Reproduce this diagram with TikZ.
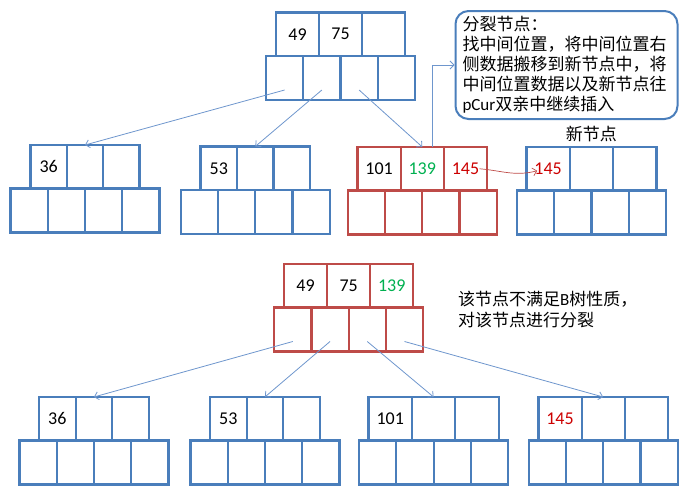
\documentclass[tikz,border=0pt]{standalone}
\usepackage{fontspec}
\setmainfont{Carlito}
\newfontfamily\cjk{Noto Sans CJK SC}
\usepackage{tikz}
\usetikzlibrary{
  	positioning,
  	arrows.meta,
  	calc
  }

\definecolor{treeblue}{RGB}{74,126,187}
\definecolor{treered}{RGB}{190,75,72}
\definecolor{linkblue}{RGB}{110,150,205}
\definecolor{keygreen}{RGB}{0,176,80}
\definecolor{keyred}{RGB}{204,0,0}

% one B-tree node: three keys over four child slots
\newcommand{\btnode}[7]{%
  \node[key, draw=#2, minimum width=#7, anchor=north west] (#1k1) at (#3) {#4};
  \node[key, draw=#2, minimum width=#7, right=0 of #1k1] (#1k2) {#5};
  \node[key, draw=#2, minimum width=#7, right=0 of #1k2] (#1k3) {#6};
  \node[kid, draw=#2, below left=0 of #1k2.south] (#1c2) {};
  \node[kid, draw=#2, left=0 of #1c2] (#1c1) {};
  \node[kid, draw=#2, right=0 of #1c2] (#1c3) {};
  \node[kid, draw=#2, right=0 of #1c3] (#1c4) {};
}

\begin{document}
\begin{tikzpicture}[x=1pt, y=-1pt,
  >={Straight Barb[length=4pt,width=8pt]},
  key/.style={line width=2.2pt, minimum height=43.5pt, inner sep=0pt, outer sep=0pt, font=\fontsize{18}{20}\selectfont},
  kid/.style={line width=2.2pt, minimum width=37.25pt, minimum height=44pt, inner sep=0pt, outer sep=0pt},
  link/.style={->, draw=linkblue, line width=0.8pt},
  note/.style={font=\cjk\fontsize{17}{20}\selectfont, align=left, inner sep=0pt}]
  \useasboundingbox (0,0) rectangle (693,498);
% before the split
  \btnode{P}{treeblue}{276,12.5}{49}{75}{}{43pt}
  \btnode{A}{treeblue}{30.5,145}{36}{}{}{36.3pt}
  \btnode{B}{treeblue}{200.5,146.5}{53}{}{}{36.5pt}
  \btnode{C}{treered}{357.5,147}{101}{\textcolor{keygreen}{139}}{\textcolor{keyred}{145}}{43.2pt}
  \btnode{N}{treeblue}{526.5,147}{\textcolor{keyred}{145}}{}{}{43.3pt}
  \draw[link] ([yshift=-12pt]Pc1.center) -- (Ak2.north);
  \draw[link] ([yshift=-12pt]Pc2.center) -- (Bk2.north);
  \draw[link] ([yshift=-12pt]Pc3.center) -- (Ck2.north);
  \node[note, draw=treeblue, line width=2pt, rounded corners=13pt, inner xsep=7pt, inner ysep=4pt,
    text width=208pt, minimum height=108pt, anchor=north west] (split) at (454.5,10)
    {分裂节点：\\找中间位置，将中间位置右\\侧数据搬移到新节点中，将\\中间位置数据以及新节点往\\{\normalfont pCur}双亲中继续插入};
  \node[note, above=5pt of Nk2] (newlab) {新节点};
  \draw[link] ([xshift=10pt]Ck2.north) |- (split.west);
  \draw[->, draw=treered, line width=0.7pt] ([xshift=14pt]Ck3.center) to[out=-5, in=195] ([xshift=-11pt,yshift=-2pt]Nk1.center);
% after the split
  \btnode{R}{treered}{284,264}{49}{75}{\textcolor{keygreen}{139}}{43.1pt}
  \btnode{L}{treeblue}{39,397}{36}{}{}{36.6pt}
  \btnode{M}{treeblue}{210,397}{53}{}{}{36.6pt}
  \btnode{S}{treeblue}{368.5,397}{101}{}{}{43.4pt}
  \btnode{T}{treeblue}{538.5,397}{\textcolor{keyred}{145}}{}{}{43.1pt}
  \draw[link] ([yshift=-12pt]Rc1.center) -- (Lk2.north);
  \draw[link] ([yshift=-12pt]Rc2.center) -- (Mk2.north);
  \draw[link] ([yshift=-12pt]Rc3.center) -- (Sk2.north);
  \draw[link] ([yshift=-12pt]Rc4.center) -- (Tk2.north);
  \node[note, font=\cjk\fontsize{17}{21.4}\selectfont, anchor=north west] (bad) at (458,291)
    {该节点不满足{\normalfont B}树性质，\\对该节点进行分裂};
\end{tikzpicture}
\end{document}
